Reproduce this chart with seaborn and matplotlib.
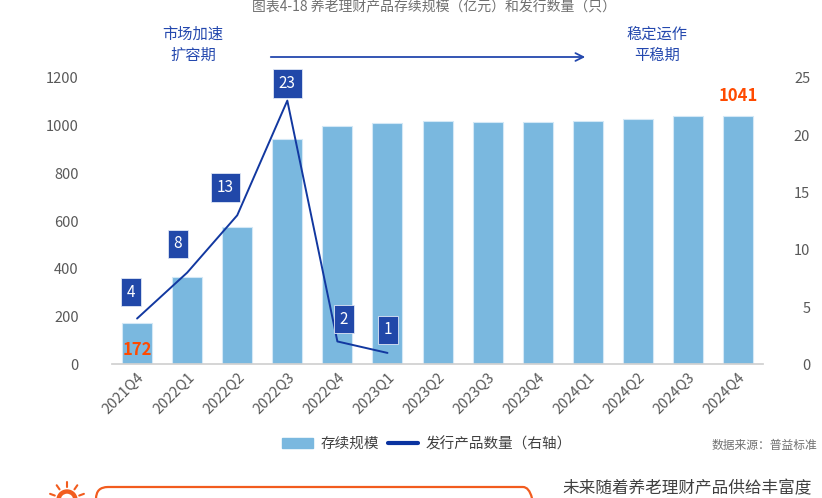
import matplotlib
matplotlib.use('Agg')
import matplotlib.pyplot as plt
import numpy as np
import pandas as pd
import seaborn as sns
from matplotlib.lines import Line2D
from matplotlib.patches import Patch, FancyBboxPatch, Wedge

quarters = ['2021Q4', '2022Q1', '2022Q2', '2022Q3', '2022Q4', '2023Q1', '2023Q2',
            '2023Q3', '2023Q4', '2024Q1', '2024Q2', '2024Q3', '2024Q4']
scale = [172, 365, 577, 945, 998, 1012, 1018, 1016, 1016, 1020, 1028, 1038, 1041]
issue_counts = [4, 8, 13, 23, 2, 1]

title = '图表4-18 养老理财产品存续规模（亿元）和发行数量（只）'
bar_label = '存续规模'
line_label = '发行产品数量（右轴）'
phase1 = '市场加速\n扩容期'
phase2 = '稳定运作\n平稳期'
source = '数据来源：普益标准'
footer = '未来随着养老理财产品供给丰富度'

# label box offsets (dx in bar slots, box y in right-axis units)
box_dx = [-0.12, -0.19, -0.24, 0.0, 0.13, 0.01]
box_y = [6.3, 10.5, 15.4, 24.5, 3.95, 3.0]

BAR_C = '#7ab8df'
LINE_C = '#1238a0'
BOX_C = '#2148a9'
HL_C = '#ff4a00'
TXT_C = '#595959'
ORANGE = '#f25c1e'

sns.set_theme(style='white')
plt.rcParams['font.family'] = ['Noto Sans CJK SC', 'DejaVu Sans']

df = pd.DataFrame({'quarter': quarters, 'scale': scale})

fig = plt.figure(figsize=(8.22, 4.98), dpi=100)
ax = fig.add_axes([0.1363, 0.2683, 0.7920, 0.5757])
sns.barplot(data=df, x='quarter', y='scale', color=BAR_C, saturation=1, width=0.6,
            edgecolor='#d3e8f6', linewidth=0.8, ax=ax)
ax.set_xlim(-0.5, len(quarters) - 0.5)
ax.set_ylim(0, 1200)
ax.set_yticks(range(0, 1201, 200))
ax.set_xlabel('')
ax.set_ylabel('')
for s in ['top', 'right', 'left']:
    ax.spines[s].set_visible(False)
ax.spines['bottom'].set_color('#d0d0d0')
ax.tick_params(axis='y', length=0, pad=24, labelsize=10.5, labelcolor=TXT_C)
ax.tick_params(axis='x', length=0, pad=4, labelsize=10.5, labelcolor=TXT_C)
for lab in ax.get_xticklabels():
    lab.set_rotation(45)
    lab.set_ha('right')
    lab.set_va('top')
    lab.set_rotation_mode('anchor')

ax.text(0, 60, str(scale[0]), color=HL_C, fontsize=12, fontweight='bold',
        ha='center', va='center')
ax.text(len(scale) - 1, scale[-1] + 82, str(scale[-1]), color=HL_C, fontsize=12,
        fontweight='bold', ha='center', va='center')

ax2 = ax.twinx()
pos = np.arange(len(issue_counts))
sns.lineplot(x=pos, y=issue_counts, color=LINE_C, linewidth=1.4, ax=ax2)
ax2.set_ylim(0, 25)
ax2.set_yticks(range(0, 26, 5))
ax2.tick_params(axis='y', length=0, pad=34, labelsize=10.5, labelcolor=TXT_C)
for lab in ax2.get_yticklabels():
    lab.set_ha('right')
for s in ax2.spines.values():
    s.set_visible(False)

for i, v in enumerate(issue_counts):
    ax2.text(i + box_dx[i], box_y[i], str(v), color='white', fontsize=11,
             ha='center', va='center',
             bbox=dict(boxstyle='square,pad=0.38', fc=BOX_C, ec='#dfe6f5', lw=0.6))

# phase annotations
fig.text(193 / 822, 1 - 45 / 498, phase1, color='#2448ae', fontsize=11,
         ha='center', va='center', linespacing=1.3)
fig.text(657 / 822, 1 - 45 / 498, phase2, color='#2448ae', fontsize=11,
         ha='center', va='center', linespacing=1.3)
ax.annotate('', xy=(588 / 822, 1 - 57 / 498), xytext=(268 / 822, 1 - 57 / 498),
            xycoords='figure fraction', textcoords='figure fraction',
            arrowprops=dict(arrowstyle='->', color='#2448ae', lw=1.3,
                            mutation_scale=14))

fig.text(434 / 822, 1 - 6 / 498, title, color='#707070', fontsize=10,
         ha='center', va='center')

handles = [Patch(color=BAR_C, label=bar_label),
           Line2D([0], [0], color='#0a33a0', lw=3, label=line_label)]
fig.legend(handles=handles, loc='center', bbox_to_anchor=(427 / 822, 1 - 444 / 498),
           ncol=2, frameon=False, fontsize=10.5, handlelength=2.1, columnspacing=0.6,
           handletextpad=0.5, labelcolor='#404040')

fig.text(817 / 822, 1 - 445 / 498, source, color='#707070', fontsize=8.5,
         ha='right', va='center')

# footer decorations (inch coordinates from the bottom-left corner)
inch = fig.dpi_scale_trans
fig.add_artist(FancyBboxPatch((0.96, -0.45), 4.39, 0.56,
                              boxstyle='round,pad=0,rounding_size=0.12',
                              transform=inch, fc='none', ec=ORANGE, lw=1.6))
cx, cy = 0.67, -0.02
fig.add_artist(Wedge((cx, cy), 0.10, 0, 180, width=0.03, transform=inch, color=ORANGE))
for ang in [20, 55, 90, 125, 160]:
    a = np.deg2rad(ang)
    fig.add_artist(Line2D([cx + 0.13 * np.cos(a), cx + 0.18 * np.cos(a)],
                          [cy + 0.13 * np.sin(a), cy + 0.18 * np.sin(a)],
                          transform=inch, color=ORANGE, lw=1.5))
fig.text(562 / 822, 1 - 489 / 498, footer, color='#404040', fontsize=12,
         ha='left', va='center')

fig.savefig('out.png', dpi=100)
